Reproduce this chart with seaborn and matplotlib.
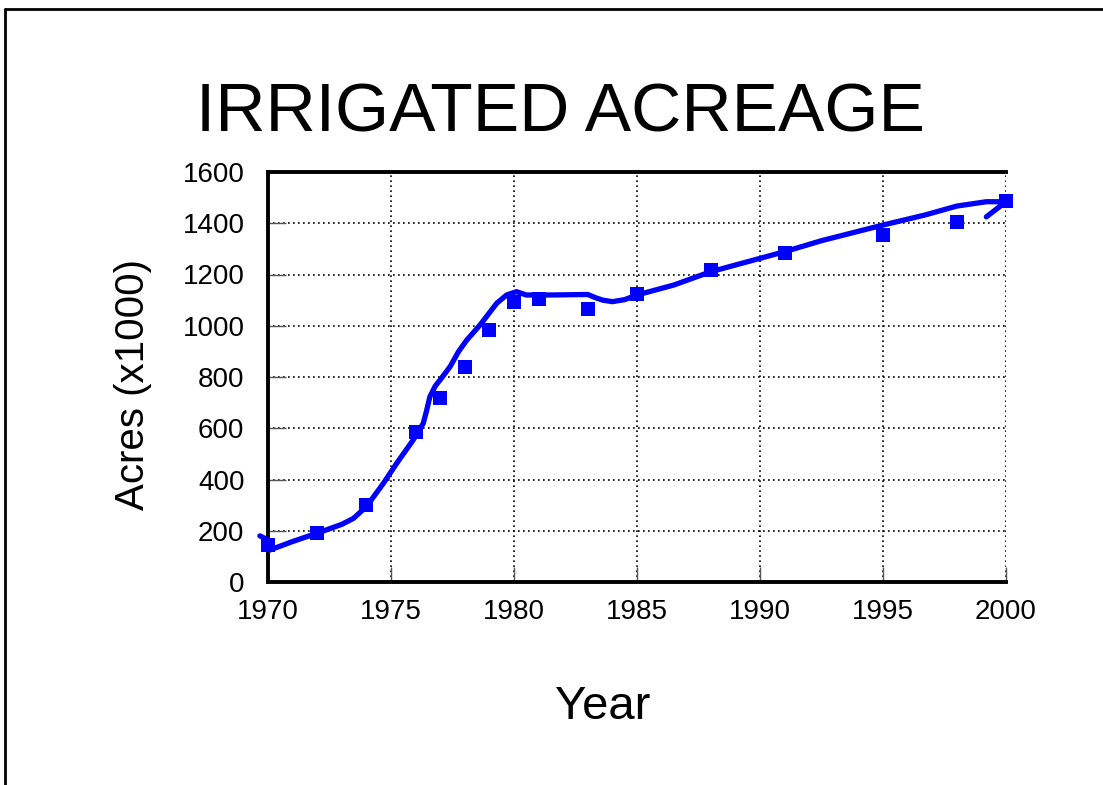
import matplotlib
matplotlib.use("Agg")
import matplotlib.pyplot as plt
from matplotlib.lines import Line2D
import pandas as pd
import seaborn as sns

# measured acreage (x1000)
years = [1970, 1972, 1974, 1976, 1977, 1978, 1979, 1980, 1981, 1983, 1985, 1988, 1991, 1995, 1998, 2000]
acres = [144, 191, 300, 585, 718, 839, 983, 1093, 1104, 1065, 1124, 1218, 1284, 1354, 1405, 1487]

# hand-drawn trend curve
trend_year = [1969.67, 1969.88, 1970.08, 1971.0, 1971.98, 1973.0, 1973.47, 1974.0, 1974.69, 1975.23,
              1975.9, 1976.31, 1976.45, 1976.58, 1976.8, 1976.99, 1977.4, 1977.75, 1978.08, 1978.62,
              1979.3, 1979.7, 1980.1, 1980.5, 1981.46, 1983.0, 1983.3, 1983.6, 1984.0, 1984.5,
              1985.0, 1986.5, 1988.0, 1990.0, 1991.0, 1992.5, 1995.0, 1996.7, 1998.0, 1999.2,
              2000.0, 1999.2]
trend_acres = [180, 170, 125, 158, 190, 225, 248, 294, 385, 463,
               554, 619, 670, 723, 765, 788, 840, 900, 944, 1003,
               1088, 1120, 1133, 1120, 1120, 1122, 1110, 1100, 1094, 1102,
               1120, 1159, 1211, 1263, 1289, 1332, 1393, 1432, 1467, 1484,
               1484, 1425]

xticks = [1970, 1975, 1980, 1985, 1990, 1995, 2000]
yticks = [0, 200, 400, 600, 800, 1000, 1200, 1400, 1600]

sns.set_style("white")
plt.rcParams['font.family'] = ['Liberation Sans', 'DejaVu Sans']
plt.rcParams['text.color'] = 'black'
plt.rcParams['xtick.labelcolor'] = 'black'
plt.rcParams['ytick.labelcolor'] = 'black'

fig = plt.figure(figsize=(11.03, 7.85), dpi=100)
ax = fig.add_axes([268 / 1103, 1 - 582 / 785, (1006 - 268) / 1103, (582 - 172) / 785])

blue = "#0000ff"
trend = pd.DataFrame({"year": trend_year, "acres": trend_acres})
pts = pd.DataFrame({"year": years, "acres": acres})

sns.lineplot(data=trend, x="year", y="acres", sort=False, estimator=None, color=blue,
             linewidth=3.8, ax=ax, clip_on=False, zorder=3)
sns.scatterplot(data=pts, x="year", y="acres", marker="s", color=blue, s=105,
                linewidth=0, ax=ax, clip_on=False, zorder=4)

ax.set_xlim(1970, 2000)
ax.set_ylim(0, 1600)
ax.set_xticks(xticks)
ax.set_yticks(yticks)
ax.grid(True, color="black", linestyle=(0, (1, 2)), linewidth=1.2)
ax.set_axisbelow(True)

for side in ["left", "bottom", "top"]:
    ax.spines[side].set_color("black")
    ax.spines[side].set_linewidth(2.8)
ax.spines["right"].set_visible(False)

ax.tick_params(axis="y", direction="in", length=13, width=1, color="#555555", pad=17,
               labelsize=20, left=True, labelcolor="black")
ax.tick_params(axis="x", direction="in", length=11, width=1, color="#555555", pad=12,
               labelsize=20, bottom=True, labelcolor="black")

ax.set_xlabel("")
ax.set_ylabel("")
fig.text(0.508, 0.855, "IRRIGATED ACREAGE", fontsize=50, ha="center", va="center", color="black")
fig.text(0.546, 0.099, "Year", fontsize=34, ha="center", va="center", color="black")
fig.text(0.121, 0.51, "Acres (x1000)", fontsize=29, ha="center", va="center", rotation=90,
         color="black")

# outer frame (top and left edges)
fig.add_artist(Line2D([5 / 1103, 1], [1 - 9 / 785, 1 - 9 / 785], color="black", linewidth=2,
                      transform=fig.transFigure))
fig.add_artist(Line2D([5 / 1103, 5 / 1103], [0, 1 - 9 / 785], color="black", linewidth=2,
                      transform=fig.transFigure))

fig.savefig("out.png", dpi=100)
